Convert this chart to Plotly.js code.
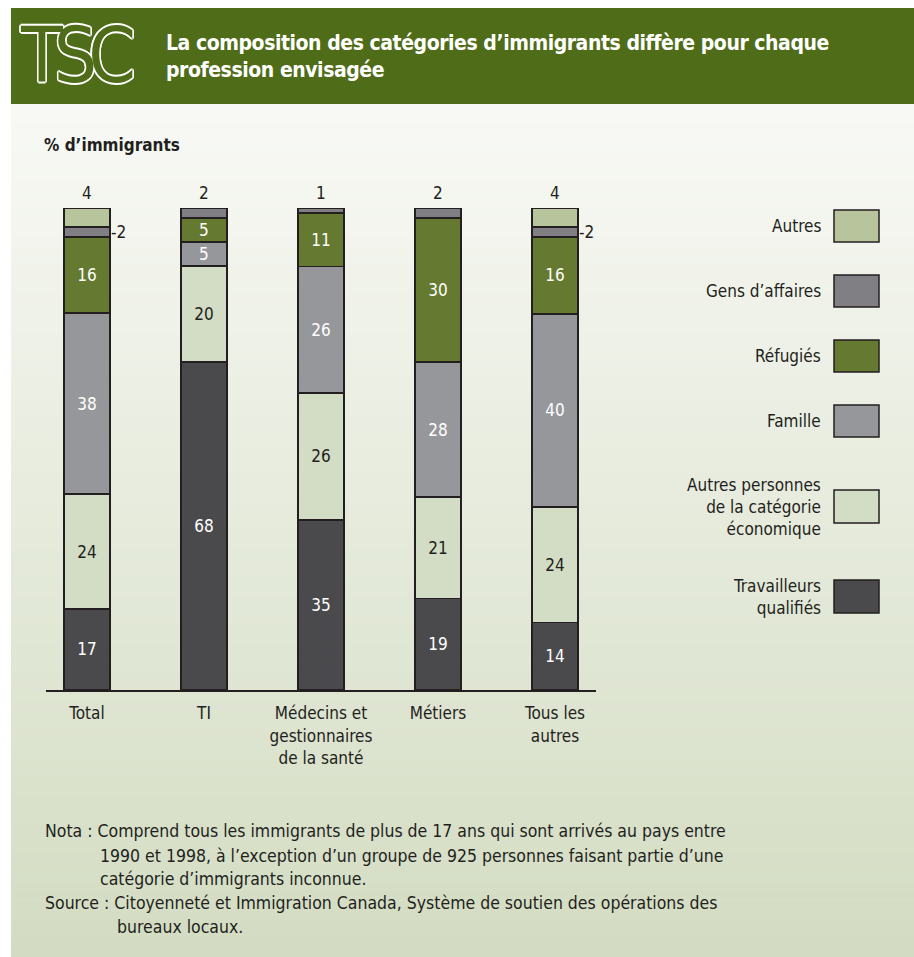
<!DOCTYPE html>
<html>
<head>
<meta charset="utf-8">
<script src="https://cdn.plot.ly/plotly-3.0.1.min.js"></script>
<style>html,body{margin:0;padding:0;background:#fff;}#chart{width:914px;height:957px;}</style>
</head>
<body>
<div id="chart"></div>
<script>
// ---- Data ----
const categories = ['Total', 'TI', 'Médecins et<br>gestionnaires<br>de la santé', 'Métiers', 'Tous les<br>autres'];
const seriesNames = ['Travailleurs qualifiés', 'Autres personnes de la catégorie économique', 'Famille', 'Réfugiés', "Gens d’affaires", 'Autres'];
const travailleurs = [17, 68, 35, 19, 14];
const autresEco = [24, 20, 26, 21, 24];
const famille = [38, 5, 26, 28, 40];
const refugies = [16, 5, 11, 30, 16];
const gensAffaires = [2, 2, 1, 2, 2];
const autres = [4, 0, 0, 0, 4];
const legendLabels = ['Autres', "Gens d’affaires", 'Réfugiés', 'Famille', 'Autres personnes<br>de la catégorie<br>économique', 'Travailleurs<br>qualifiés'];
const titleLines = ['La composition des catégories d’immigrants diffère pour chaque', 'profession envisagée'];
const yLabel = '% d’immigrants';
const noteLines = [
  ['Nota : Comprend tous les immigrants de plus de 17 ans qui sont arrivés au pays entre', 43],
  ['1990 et 1998, à l’exception d’un groupe de 925 personnes faisant partie d’une', 98],
  ['catégorie d’immigrants inconnue.', 98],
  ['Source : Citoyenneté et Immigration Canada, Système de soutien des opérations des', 43],
  ['bureaux locaux.', 115]
];

// ---- Styles ----
const W = 914, H = 957;
const FONT = '"Liberation Sans Narrow", "Arial Narrow", "DejaVu Sans Condensed", Roboto, sans-serif';
const DARK = '#231f20';
const GREEN_HDR = '#4f6c19';
const colors = ['#4a4a4d', '#d3dcc4', '#96979b', '#657a30', '#7f7f84', '#b8c59c'];
const textColors = ['#ffffff', DARK, '#ffffff', '#ffffff', '#ffffff', DARK];
const px = x => x / W;
const py = y => 1 - y / H;

const allSeries = [travailleurs, autresEco, famille, refugies, gensAffaires, autres];

const traces = allSeries.map((vals, si) => ({
  type: 'bar',
  name: seriesNames[si],
  x: categories,
  y: vals,
  text: vals.map(v => v >= 5 ? String(v) : ''),
  texttemplate: '%{text}',
  textposition: 'inside',
  insidetextanchor: 'middle',
  textangle: 0,
  constraintext: 'none',
  textfont: {family: FONT, size: 17, color: textColors[si]},
  marker: {color: colors[si], line: {color: DARK, width: 1.8}},
  hoverinfo: 'skip',
  showlegend: false
}));

const shapes = [];
const annotations = [];

// background gradient (styling only)
const topC = [248, 249, 245], botC = [211, 220, 194];
const nStripes = 90, y0 = 104, y1 = H;
for (let i = 0; i < nStripes; i++) {
  const t = i / (nStripes - 1);
  const c = topC.map((a, k) => Math.round(a + (botC[k] - a) * t));
  const ya = y0 + (y1 - y0) * i / nStripes;
  const yb = y0 + (y1 - y0) * (i + 1) / nStripes + 0.6;
  shapes.push({type: 'rect', xref: 'paper', yref: 'paper', x0: px(11), x1: px(W), y0: py(yb), y1: py(ya),
    fillcolor: `rgb(${c[0]},${c[1]},${c[2]})`, line: {width: 0}, layer: 'below'});
}
// header band
shapes.push({type: 'rect', xref: 'paper', yref: 'paper', x0: px(11), x1: px(W), y0: py(104), y1: py(8),
  fillcolor: GREEN_HDR, line: {width: 0}, layer: 'below'});

// TSC logo (outlined)
annotations.push({xref: 'paper', yref: 'paper', x: px(18), y: py(55), xanchor: 'left', yanchor: 'middle',
  text: '<span style="letter-spacing:-9px">TSC</span>', showarrow: false,
  font: {family: FONT, size: 76, color: GREEN_HDR,
    shadow: '-1.3px -1.3px 0 #fff, 1.3px -1.3px 0 #fff, -1.3px 1.3px 0 #fff, 1.3px 1.3px 0 #fff, 0 1.6px 0 #fff, 0 -1.6px 0 #fff, 1.6px 0 0 #fff, -1.6px 0 0 #fff'}});
// Title
annotations.push({xref: 'paper', yref: 'paper', x: px(164), y: py(56), xanchor: 'left', yanchor: 'middle', align: 'left',
  text: titleLines.map(l => '<b><span style="letter-spacing:-0.45px">' + l + '</span></b>').join('<br>'), showarrow: false,
  font: {family: FONT, size: 21, color: '#ffffff'}});
// y label
annotations.push({xref: 'paper', yref: 'paper', x: px(42), y: py(145), xanchor: 'left', yanchor: 'middle',
  text: '<b>' + yLabel + '</b>', showarrow: false, font: {family: FONT, size: 17, color: DARK}});

// labels for small segments
categories.forEach((cat, ci) => {
  const vals = allSeries.map(s => s[ci]);
  const total = vals.reduce((a, b) => a + b, 0);
  let topIdx = -1;
  for (let si = vals.length - 1; si >= 0; si--) { if (vals[si] > 0) { topIdx = si; break; } }
  let cum = 0;
  vals.forEach((v, si) => {
    if (v > 0 && v < 5) {
      if (si === topIdx) {
        annotations.push({x: cat, y: 100, xref: 'x', yref: 'y', yanchor: 'bottom', yshift: 3,
          text: String(v), showarrow: false, font: {family: FONT, size: 17, color: DARK}});
      } else {
        const mid = (cum + v / 2) / total * 100;
        annotations.push({x: cat, y: mid, xref: 'x', yref: 'y', xanchor: 'left', yanchor: 'middle', xshift: 22,
          text: '-' + String(v), showarrow: false, font: {family: FONT, size: 17, color: DARK}});
      }
    }
    cum += v;
  });
});

// Legend (custom, text left of swatch)
const legendBoxes = [[210, 242], [275, 307], [340, 372], [405, 437], [490, 523], [580, 613]];
const legendColors = [colors[5], colors[4], colors[3], colors[2], colors[1], colors[0]];
legendLabels.forEach((lab, i) => {
  const [ya, yb] = legendBoxes[i];
  shapes.push({type: 'rect', xref: 'paper', yref: 'paper', x0: px(834), x1: px(879), y0: py(yb), y1: py(ya),
    fillcolor: legendColors[i], line: {color: DARK, width: 1.5}});
  annotations.push({xref: 'paper', yref: 'paper', x: px(823), y: py((ya + yb) / 2), xanchor: 'right', yanchor: 'middle',
    align: 'right', text: lab, showarrow: false, font: {family: FONT, size: 17, color: DARK}});
});

// Notes
const noteY = [831, 856, 879, 903, 927];
noteLines.forEach((nl, i) => {
  annotations.push({xref: 'paper', yref: 'paper', x: px(nl[1]), y: py(noteY[i]), xanchor: 'left', yanchor: 'middle',
    text: nl[0], showarrow: false, font: {family: FONT, size: 17.5, color: DARK}});
});

const layout = {
  width: W, height: H,
  margin: {l: 0, r: 0, t: 0, b: 0, pad: 0},
  paper_bgcolor: '#ffffff',
  plot_bgcolor: 'rgba(0,0,0,0)',
  barmode: 'stack',
  barnorm: 'percent',
  bargap: 0.607,
  showlegend: false,
  font: {family: FONT, size: 17, color: DARK},
  xaxis: {
    domain: [px(46), px(596)],
    range: [-0.35, 4.35],
    type: 'category',
    showline: true, linecolor: DARK, linewidth: 2,
    ticks: '', showgrid: false, zeroline: false,
    ticklabelstandoff: 7,
    tickfont: {family: FONT, size: 17, color: DARK},
    fixedrange: true
  },
  yaxis: {
    domain: [py(690), py(208)],
    range: [0, 100],
    visible: false, showgrid: false, zeroline: false, fixedrange: true
  },
  shapes: shapes,
  annotations: annotations
};

Plotly.newPlot('chart', traces, layout, {displayModeBar: false, staticPlot: true});
</script>
</body>
</html>
